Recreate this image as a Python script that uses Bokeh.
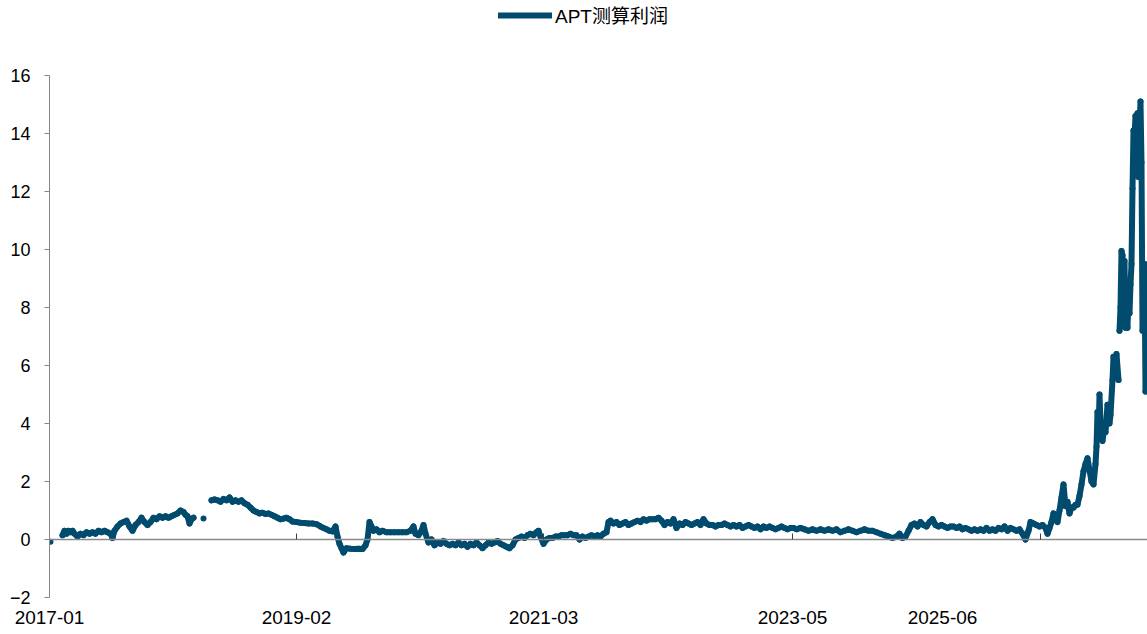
from bokeh.plotting import figure
from bokeh.layouts import column
from bokeh.models import Range1d, LinearAxis, FixedTicker, Legend, LegendItem
from bokeh.embed import file_html
from bokeh.resources import INLINE
import numpy as np

nan = float("nan")

series_name = "APT测算利润"
tick_labels = ["2017-01", "2019-02", "2021-03", "2023-05", "2025-06"]
label_idx = [0, 247, 494, 743, 893]
tick_idx = [247, 494, 743, 991]

# observation index (time order) and value
t_idx = [1, nan,
         13, 15, 17, 19, 21, 23, 25, 28, 31, 34, 37, 40, 43, 46, 49, 52, 55, 58, 61, 63, 65, 68, 71, 74,
         77, 80, 83, 86, 89, 92, 95, 98, 101, 104, 107, 110, 113, 116, 119, 122, 125, 128, 131, 134,
         136, 138, 140, 142, 144, nan,
         154, nan,
         162, 165, 168, 171, 174, 177, 180, 183, 186, 189, 192, 195, 198, 201, 204, 207, 210, 213, 216,
         219, 222, 225, 228, 231, 234, 237, 240, 243, 247, 251, 255, 259, 263, 267, 271, 274, 277, 280,
         283, 286, 288, 290, 292, 294, 297, 301, 305, 309, 313, 316, 318, 320, 322, 324, 327, 330, 333,
         337, 341, 345, 349, 353, 357, 361, 364, 366, 369, 372, 374, 376, 379, 382, 385, 388, 391, 394,
         397, 400, 403, 406, 409, 412, 415, 418, 421, 424, 427, 430, 433, 436, 439, 442, 445, 448, 451,
         454, 457, 460, 463, 466, 469, 472, 475, 478, 481, 484, 487, 489, 491, 494, 497, 500, 503, 506,
         509, 512, 515, 518, 521, 524, 527, 530, 533, 536, 539, 542, 545, 548, 551, 554, 557, 559, 561,
         564, 567, 570, 573, 576, 579, 582, 585, 588, 591, 594, 597, 600, 603, 606, 609, 612, 615, 618,
         621, 624, 627, 630, 633, 636, 639, 642, 645, 648, 651, 654, 657, 660, 663, 666, 669, 672, 675,
         678, 681, 684, 687, 690, 693, 696, 699, 702, 705, 708, 711, 714, 717, 720, 723, 726, 729, 732,
         735, 738, 741, 744, 747, 751, 755, 759, 763, 767, 771, 775, 779, 783, 787, 791, 795, 799, 803,
         807, 811, 815, 819, 823, 827, 831, 835, 839, 843, 847, 850, 853, 856, 859, 862, 865, 868, 871,
         874, 877, 880, 883, 886, 889, 892, 895, 898, 901, 904, 907, 910, 913, 916, 919, 922, 925, 928,
         931, 934, 937, 940, 943, 946, 949, 952, 955, 958, 961, 964, 967, 970, 973, 976, 979, 981, 984,
         987, 990, 993, 996, 998, 1000, 1002, 1004, 1006, 1008, 1010, 1012, 1014, 1016, 1018, 1020, 1022,
         1024, 1026, 1028, 1030, 1032, 1034, 1036, 1038, 1040, 1042, 1044, 1046, 1047, 1048, 1049, 1050,
         1051, 1053, 1055, 1056, 1058, 1060, 1061, 1063, 1064, 1066, 1067, 1069, nan,
         1070, 1071, 1072, 1073, 1074, 1075, 1076, 1077, 1078, 1079, 1080, 1081, 1082, 1083, 1084, 1085,
         1086, 1087, 1088, 1089, 1090, 1091, 1092, 1093, 1094, 1095, 1096]
profit = [-0.08, nan,
          0.15, 0.30, 0.20, 0.30, 0.25, 0.30, 0.20, 0.10, 0.20, 0.15, 0.25, 0.20, 0.25, 0.20, 0.30, 0.25,
          0.30, 0.25, 0.20, 0.05, 0.30, 0.45, 0.55, 0.60, 0.65, 0.45, 0.30, 0.50, 0.60, 0.75, 0.60, 0.50,
          0.60, 0.75, 0.70, 0.80, 0.75, 0.80, 0.75, 0.80, 0.85, 0.90, 1.00, 0.95, 0.85, 0.80, 0.55, 0.70,
          0.75, nan,
          0.72, nan,
          1.35, 1.38, 1.35, 1.30, 1.40, 1.35, 1.45, 1.30, 1.35, 1.30, 1.35, 1.25, 1.20, 1.10, 1.00, 0.95,
          0.90, 0.92, 0.88, 0.90, 0.85, 0.80, 0.75, 0.70, 0.72, 0.75, 0.70, 0.62, 0.60, 0.58, 0.57, 0.55,
          0.55, 0.53, 0.45, 0.40, 0.35, 0.30, 0.28, 0.45, 0.10, -0.15, -0.30, -0.45, -0.30, -0.32, -0.33,
          -0.32, -0.33, -0.20, 0.00, 0.60, 0.45, 0.30, 0.35, 0.25, 0.30, 0.25, 0.25, 0.25, 0.25, 0.25,
          0.25, 0.30, 0.45, 0.20, 0.15, 0.30, 0.50, 0.20, -0.10, 0.00, -0.20, -0.10, -0.15, -0.05, -0.15,
          -0.20, -0.15, -0.20, -0.10, -0.20, -0.15, -0.25, -0.15, -0.20, -0.10, -0.20, -0.30, -0.20, -0.10,
          -0.15, -0.10, -0.05, -0.15, -0.20, -0.25, -0.30, -0.20, 0.00, 0.05, 0.10, 0.05, 0.15, 0.20, 0.15,
          0.25, 0.30, 0.10, -0.15, 0.00, 0.05, 0.05, 0.10, 0.10, 0.15, 0.15, 0.15, 0.20, 0.15, 0.15, 0.00,
          0.10, 0.05, 0.10, 0.15, 0.10, 0.15, 0.10, 0.20, 0.25, 0.60, 0.65, 0.55, 0.60, 0.50, 0.55, 0.60,
          0.50, 0.55, 0.60, 0.65, 0.60, 0.70, 0.65, 0.70, 0.70, 0.70, 0.75, 0.65, 0.50, 0.60, 0.55, 0.70,
          0.40, 0.55, 0.50, 0.60, 0.55, 0.50, 0.55, 0.60, 0.50, 0.70, 0.55, 0.50, 0.50, 0.45, 0.50, 0.50,
          0.55, 0.50, 0.45, 0.50, 0.45, 0.50, 0.40, 0.45, 0.50, 0.45, 0.40, 0.45, 0.35, 0.45, 0.40, 0.45,
          0.40, 0.35, 0.40, 0.45, 0.40, 0.35, 0.40, 0.40, 0.35, 0.40, 0.35, 0.30, 0.35, 0.30, 0.35, 0.30,
          0.35, 0.30, 0.35, 0.25, 0.30, 0.35, 0.30, 0.25, 0.30, 0.35, 0.30, 0.30, 0.25, 0.20, 0.15, 0.10,
          0.05, 0.10, 0.20, 0.05, 0.10, 0.30, 0.50, 0.55, 0.45, 0.60, 0.50, 0.45, 0.60, 0.70, 0.50, 0.45,
          0.50, 0.45, 0.40, 0.45, 0.45, 0.40, 0.45, 0.35, 0.40, 0.35, 0.30, 0.35, 0.30, 0.35, 0.30, 0.40,
          0.30, 0.35, 0.30, 0.40, 0.35, 0.45, 0.30, 0.40, 0.35, 0.30, 0.35, 0.20, 0.00, 0.30, 0.60, 0.55,
          0.50, 0.45, 0.50, 0.40, 0.20, 0.40, 0.60, 0.90, 0.80, 0.60, 1.00, 1.45, 1.90, 1.15, 1.30, 0.90,
          1.10, 1.10, 1.20, 1.20, 1.50, 1.90, 2.35, 2.60, 2.80, 2.40, 2.00, 1.90, 2.60, 3.20, 4.40, 3.50,
          5.00, 4.00, 3.40, 3.90, 3.70, 4.65, 4.00, 4.30, 5.50, 6.30, 5.70, 6.40, 5.50, nan,
          7.20, 8.00, 9.95, 9.80, 7.50, 9.60, 7.30, 7.40, 7.30, 8.40, 7.80, 8.80, 9.50, 12.10, 14.10, 13.90,
          14.60, 14.10, 14.70, 12.50, 14.20, 15.10, 13.00, 7.20, 9.00, 9.50, 5.10]

n = min(len(t_idx), len(profit))
x = np.array(t_idx[:n], dtype=float)
y = np.array(profit[:n], dtype=float)
y[np.isnan(x)] = np.nan

LINE_COLOR = "#004B6E"
FONT = "Liberation Sans, Arial, Noto Sans CJK SC"
W = 1147
LEG_H = 40

# legend strip above the chart (its line renderer holds only a NaN, so nothing is drawn but the key)
leg_fig = figure(width=W, height=LEG_H, output_backend="svg", toolbar_location=None,
                 x_axis_type=None, y_axis_type=None, min_border=0,
                 x_range=Range1d(0, 1), y_range=Range1d(0, 1))
leg_fig.outline_line_color = None
leg_fig.grid.visible = False
key = leg_fig.line(x=[nan, nan], y=[nan, nan], line_width=6, line_color=LINE_COLOR, line_cap="round")
legend = Legend(items=[LegendItem(label=series_name, renderers=[key])],
                orientation="horizontal", location=(449, 12),
                border_line_color=None, background_fill_alpha=0,
                glyph_width=54, glyph_height=20, label_text_font=FONT,
                label_text_font_size="19px", label_text_color="#000000",
                label_standoff=3, padding=0, margin=0)
leg_fig.add_layout(legend, "center")

p = figure(width=W, height=634 - LEG_H, output_backend="svg", toolbar_location=None,
           x_range=Range1d(0, 1098), y_range=Range1d(-2, 16),
           x_axis_type=None, min_border_left=49, min_border_right=0,
           min_border_top=75 - LEG_H, min_border_bottom=37)
p.outline_line_color = None
p.ygrid.grid_line_color = None

p.line(x, y, line_width=6, line_color=LINE_COLOR, line_join="round", line_cap="round")
p.scatter(x, y, size=6, fill_color=LINE_COLOR, line_color=None)

yax = p.yaxis[0]
yax.ticker = FixedTicker(ticks=list(range(-2, 17, 2)))
yax.major_tick_in = 0
yax.major_tick_out = 5
yax.minor_tick_line_color = None
yax.axis_line_color = "#868686"
yax.major_tick_line_color = "#868686"
yax.major_label_text_font = FONT
yax.major_label_text_font_size = "18px"
yax.major_label_text_color = "#000000"
yax.major_label_standoff = 14

zero_axis = LinearAxis(fixed_location=0, ticker=FixedTicker(ticks=tick_idx),
                       major_tick_in=6, major_tick_out=0, minor_tick_line_color=None,
                       axis_line_color="#8a8a8a", axis_line_width=1.5,
                       major_tick_line_color="#404040",
                       major_label_overrides={k: "" for k in tick_idx},
                       major_label_standoff=0)
p.add_layout(zero_axis, "below")

label_axis = LinearAxis(ticker=FixedTicker(ticks=label_idx),
                        major_label_overrides={k: s for k, s in zip(label_idx, tick_labels)},
                        axis_line_color=None, major_tick_line_color=None, minor_tick_line_color=None,
                        major_tick_in=0, major_tick_out=0,
                        major_label_text_font=FONT, major_label_text_font_size="19px",
                        major_label_text_color="#000000", major_label_standoff=13)
p.add_layout(label_axis, "below")

layout = column(leg_fig, p, spacing=0)
open("out.html", "w").write(file_html(layout, INLINE))
